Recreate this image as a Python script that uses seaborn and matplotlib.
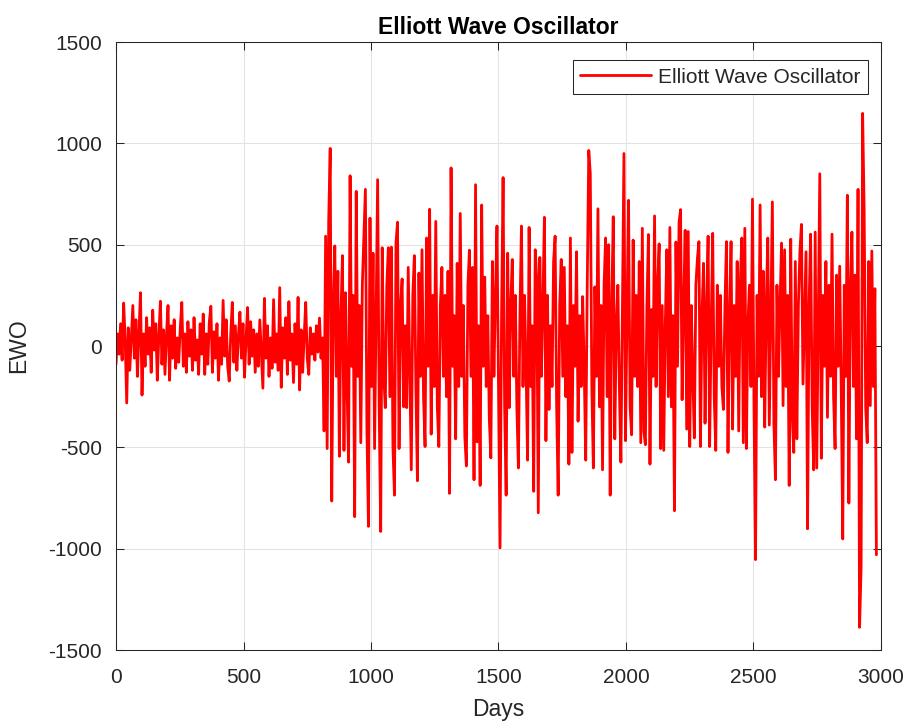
import numpy as np
import pandas as pd
import matplotlib
matplotlib.use("Agg")
import matplotlib.pyplot as plt
import seaborn as sns

# EWO values, one every 6 days, split by stretch of days
day_step = 6

ewo_0_810 = [
    -90, 60, -40, 110, -70, 212, 30, -281, 90, -120,
    40, 200, -60, 130, -150, 70, 263, -242, 60, -100,
    140, -40, 90, -130, 177, -20, 110, -169, 50, 221,
    -90, 80, -140, 60, 200, -169, 100, -60, 130, -110,
    40, -80, 90, 215, -100, 60, -130, 120, -50, 80,
    -120, 140, -70, 30, -140, 110, -40, 158, -140, 60,
    -90, 120, 196, -130, 70, -60, 110, -169, 40, -90,
    225, -50, 130, -100, -173, 60, 215, -80, 100, -120,
    50, 167, -60, 110, -154, 40, 190, -90, 120, -50,
    80, -130, 60, -100, 129, -40, -208, 235, -60, 100,
    -150, 40, -110, 229, -80, 60, -120, 288, -204, 90,
    -60, 140, -140, 219, -70, 60, -180, 110, -90, 240,
    -217, 80, -130, 50, 215, -60, -140, 90, -40, 60,
    -70, 100, -30, 138, -60, 40,
]

ewo_816_1494 = [
    -419, 542, -506, 610, 975, -765, 200, 494, -150, 369,
    -544, 150, 446, -515, 263, -200, -573, 840, -100, 250,
    -842, 763, -150, 200, -477, 300, 542, 773, -410, -890,
    631, -200, 458, -506, 150, 821, -300, -915, 485, -150,
    -304, 300, 485, -250, 488, -496, -736, 508, 611, -506,
    200, 331, -300, 100, -304, 388, -100, -611, 250, 446,
    -200, -665, 360, -150, 475, -250, -496, 533, -100, 675,
    -435, 250, -200, 615, -300, -496, 200, 388, -150, 250,
    -250, 369, -727, 879, -100, 150, -458, 408, -200, 654,
    -150, 200, -448, -592, 300, 473, -150, 388, -660, 796,
    -473, 100, -688, 696, -100, 340, -200, 150, -361, -552,
    417, -150, 250, 592,
]

ewo_1500_1998 = [
    -200, -996, 150, 831, -300, -736, 458, -304, 200, 427,
    -150, 250, -300, -602, 150, 592, -200, 250, -100, -563,
    585, -200, 100, -717, 475, 330, -823, 437, -150, 200,
    635, -467, 250, -313, 100, -200, 417, 542, -300, -736,
    200, 427, -150, 388, -250, 100, -583, 533, -525, 200,
    -100, 465, -371, 150, -200, 244, -100, -563, 300, 965,
    850, -200, -602, 292, -150, 677, -300, 200, -611, 300,
    533, -250, 500, -736, 200, 638, -458, 100, 300, -200,
    -573, 200, 950, -467,
]

ewo_2004_2496 = [
    150, 719, -300, -438, 523, -150, 250, -200, 417, -477,
    581, -419, -487, 200, 550, -583, 180, -150, 642, -200,
    300, 504, -506, 200, -515, 100, 475, -250, 585, -300,
    150, -813, 513, -100, 611, 673, -265, 200, 571, -410,
    565, -496, 200, -150, -454, 300, 431, 515, -496, 150,
    408, -381, 200, 542, -496, 100, 556, -250, -515, 300,
    -100, 250, -200, -313, 200, 515, -525, 150, 515, -410,
    200, -150, 417, -419, 300, 533, -477, 581, -506, 100,
    300, -200, 725,
]

ewo_2502_2982 = [
    -300, -1054, 250, -150, 696, -250, 369, -400, 200, 533,
    -390, 150, 711, -380, -660, 300, -150, 200, 508, -294,
    475, -200, 250, -688, 527, -350, -525, 417, -458, 200,
    465, 600, -188, 150, 465, -902, 200, 552, -300, -611,
    562, -602, 150, 850, -554, 250, -100, 417, -352, 300,
    -150, 552, -250, -506, 350, -100, 394, -200, -952, 300,
    -150, 744, -775, 300, 562, -200, 350, -458, 773, -1388,
    -1092, 1148, 667, -300, -477, 417, -294, 469, -200, 283, -1030,
]

x_ticks = [0, 500, 1000, 1500, 2000, 2500, 3000]
y_ticks = [-1500, -1000, -500, 0, 500, 1000, 1500]

ewo = ewo_0_810 + ewo_816_1494 + ewo_1500_1998 + ewo_2004_2496 + ewo_2502_2982
df = pd.DataFrame({"Days": np.arange(len(ewo)) * day_step, "EWO": ewo})

sns.set_theme(style="whitegrid")
plt.rcParams["font.family"] = ["Liberation Sans", "DejaVu Sans"]
plt.rcParams["axes.unicode_minus"] = False

dark = "#262626"
fig = plt.figure(figsize=(9.12, 7.22), dpi=100)
ax = fig.add_axes([0.1272, 0.0997, 0.8388, 0.8421])

sns.lineplot(data=df, x="Days", y="EWO", ax=ax, color="#ff0000", linewidth=2.0,
             label="Elliott Wave Oscillator", estimator=None, sort=False)

ax.set_xlim(0, 3000)
ax.set_ylim(-1500, 1500)
ax.set_xticks(x_ticks)
ax.set_yticks(y_ticks)

ax.grid(True, color="#e3e3e3", linewidth=0.75)
ax.set_axisbelow(True)
for s in ax.spines.values():
    s.set_visible(True)
    s.set_color(dark)
    s.set_linewidth(0.75)

ax.tick_params(axis="both", direction="in", length=5.5, width=0.75, color=dark,
               labelcolor=dark, labelsize=15, top=True, right=True,
               bottom=True, left=True)
ax.tick_params(axis="x", pad=13)
ax.tick_params(axis="y", pad=10)

ax.set_xlabel("Days", fontsize=16.5, color=dark)
ax.set_ylabel("EWO", fontsize=16.5, color=dark)
ax.xaxis.set_label_coords(0.5, -0.079)
ax.yaxis.set_label_coords(-0.112, 0.5)
ax.set_title("Elliott Wave Oscillator", fontsize=16.5, fontweight="bold",
             color="black", pad=6)

leg = ax.legend(loc="upper right", bbox_to_anchor=(0.983, 0.970), borderaxespad=0,
                fancybox=False, edgecolor=dark, framealpha=1, fontsize=15,
                handlelength=3.4, handletextpad=0.35, borderpad=0.35)
leg.get_frame().set_linewidth(0.75)

fig.savefig("out.png", dpi=100)
